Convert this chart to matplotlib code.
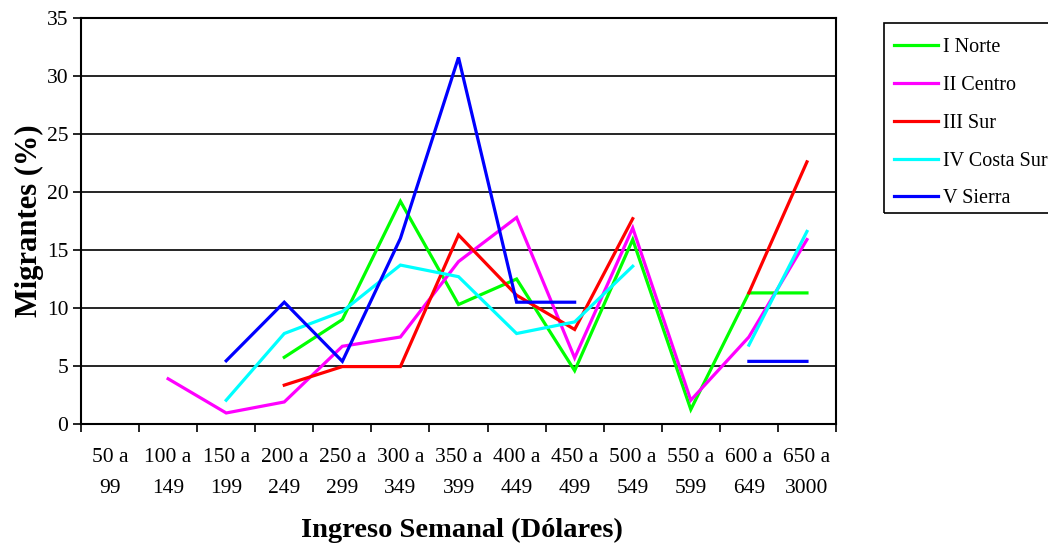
import numpy as np
import matplotlib
matplotlib.use("Agg")
import matplotlib.pyplot as plt
from matplotlib.patches import Rectangle

categories = ["50 a\n99", "100 a\n149", "150 a\n199", "200 a\n249", "250 a\n299",
              "300 a\n349", "350 a\n399", "400 a\n449", "450 a\n499", "500 a\n549",
              "550 a\n599", "600 a\n649", "650 a\n3000"]
nan = np.nan
norte = [nan, nan, nan, 5.75, 9.0, 19.2, 10.3, 12.5, 4.6, 15.9, 1.25, 11.3, 11.3]
centro = [nan, 3.9, 0.95, 1.9, 6.7, 7.5, 14.0, 17.8, 5.7, 16.9, 2.05, 7.5, 15.9]
sur = [nan, nan, nan, 3.35, 4.95, 4.95, 16.3, 11.1, 8.15, 17.7, nan, 11.3, 22.6]
costa_sur = [nan, nan, 2.05, 7.8, 9.7, 13.7, 12.7, 7.8, 8.8, 13.6, nan, 6.8, 16.6]
sierra = [nan, nan, 5.45, 10.5, 5.4, 16.0, 31.6, 10.5, 10.5, nan, nan, 5.4, 5.4]

series = [("I Norte", norte, "#00ff00"),
          ("II Centro", centro, "#ff00ff"),
          ("III Sur", sur, "#ff0000"),
          ("IV Costa Sur", costa_sur, "#00ffff"),
          ("V Sierra", sierra, "#0000ff")]

plt.rcParams['font.family'] = ['Liberation Serif', 'DejaVu Serif']

W, H = 1048, 552
fig = plt.figure(figsize=(W/100, H/100), dpi=100)
ax = fig.add_axes([81/W, 1 - 424/H, (836-81)/W, (424-18)/H])

x = np.arange(len(categories))
for name, vals, col in series:
    ax.plot(x, np.array(vals, dtype=float), color=col, lw=2.3, label=name,
            solid_joinstyle='miter')

ax.set_xlim(-0.5, len(categories) - 0.5)
ax.set_ylim(0, 35)
ax.set_yticks(np.arange(0, 36, 5))
ax.yaxis.grid(True, color='black', lw=1.2)
ax.set_axisbelow(True)

ax.set_xticks(np.arange(-0.5, len(categories), 1.0))
ax.set_xticklabels([])
ax.set_xticks(x, minor=True)
ax.set_xticklabels(categories, minor=True, fontsize=15.5, linespacing=1.85)
ax.tick_params(axis='x', which='minor', length=0, pad=17)
ax.tick_params(axis='x', which='major', length=6, width=1.2, direction='out')
ax.tick_params(axis='y', length=6, width=1.2, direction='out', labelsize=15.5, pad=3)

for s in ax.spines.values():
    s.set_linewidth(1.5)

ax.set_ylabel("Migrantes (%)", fontsize=22, fontweight='bold', labelpad=2)
fig.text(462/W, 1 - 530/H, "Ingreso Semanal (Dólares)", fontsize=20.5,
         fontweight='bold', ha='center', va='center')

# legend frame
fig.patches.append(Rectangle((884/W, 1 - 213/H), (W + 5 - 884)/W, (213-23)/H,
                             transform=fig.transFigure, fill=False,
                             edgecolor='black', lw=1.2))
leg = fig.legend(loc='upper left', bbox_to_anchor=(884/W, 1 - 28/H),
                 fontsize=14.5, frameon=False,
                 handlelength=2.2, handletextpad=0.25, labelspacing=0.93,
                 borderpad=0.5, borderaxespad=0)

fig.savefig("out.png", dpi=100)
